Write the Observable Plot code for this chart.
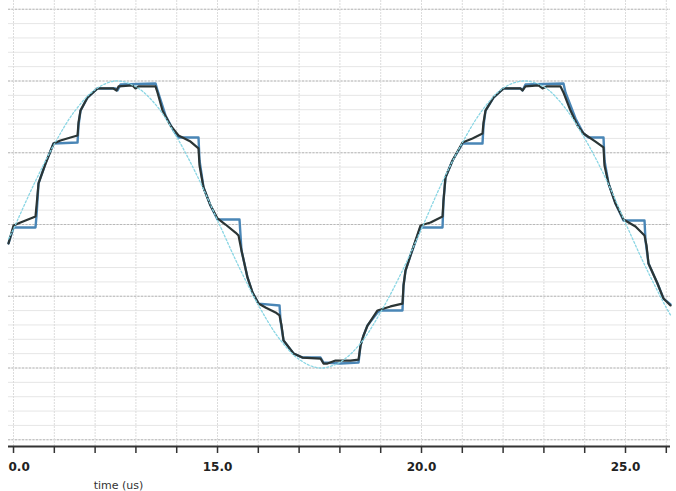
<!DOCTYPE html>
<html>
<head>
<meta charset="utf-8">
<script src="https://cdn.jsdelivr.net/npm/d3@7"></script>
<script src="https://cdn.jsdelivr.net/npm/@observablehq/plot@0.6"></script>
<style>
  html, body { margin: 0; padding: 0; background: #ffffff; }
  #chart { width: 676px; height: 491px; overflow: hidden; }
</style>
</head>
<body>
<div id="chart"></div>
<script>
// time axis (us)
const xTicks = [10, 11, 12, 13, 14, 15, 16, 17, 18, 19, 20, 21, 22, 23, 24, 25, 26];
const xLabelTicks = [15, 20, 25];
const xLabelFirst = [10];
const xLabelText = {10: "0.0", 15: "15.0", 20: "20.0", 25: "25.0"};
const yMajor = [-1.5, -1, -0.5, 0, 0.5, 1, 1.5];
const yMinor = [-1.5, -1.4, -1.3, -1.2, -1.1, -1, -0.9, -0.8, -0.7, -0.6, -0.5, -0.4, -0.3, -0.2, -0.1, 0,
                0.1, 0.2, 0.3, 0.4, 0.5, 0.6, 0.7, 0.8, 0.9, 1, 1.1, 1.2, 1.3, 1.4, 1.5];
const xDomain = [9.877, 26.103];
const yDomain = [-1.547, 1.561];

// reference sine (dotted, light cyan)
const sineT = [9.877, 10.0, 10.5, 11.0, 11.5, 12.0, 12.5, 13.0, 13.5, 14.0, 14.5, 15.0, 15.5, 16.0, 16.5, 17.0, 17.5,
               18.0, 18.5, 19.0, 19.5, 20.0, 20.5, 21.0, 21.5, 22.0, 22.5, 23.0, 23.5, 24.0, 24.5, 25.0, 25.5, 26.0, 26.103];
const sineV = [-0.10, -0.03, 0.28, 0.56, 0.79, 0.94, 1.0, 0.96, 0.83, 0.61, 0.34, 0.03, -0.28, -0.56, -0.79, -0.94, -1.0,
               -0.96, -0.83, -0.61, -0.34, -0.03, 0.29, 0.57, 0.80, 0.95, 1.0, 0.96, 0.82, 0.60, 0.33, 0.01, -0.30, -0.58, -0.63];

// stepped output (blue)
const blueT = [9.877, 10.0, 10.539, 10.564, 10.613, 10.784, 10.980, 11.569, 11.593, 11.642, 11.814, 12.059, 12.5, 12.549, 12.623,
               13.480, 13.529, 13.725, 13.922, 14.044, 14.534, 14.559, 14.657, 14.828, 15.0, 15.539, 15.588, 15.735, 15.858, 16.005,
               16.520, 16.544, 16.618, 16.863, 17.083, 17.525, 17.598, 18.015, 18.456, 18.505, 18.578, 18.676, 18.922, 18.995,
               19.534, 19.559, 19.608, 19.730, 19.975, 20.515, 20.539, 20.588, 20.760, 21.005, 21.495, 21.520, 21.569, 21.765,
               22.010, 22.426, 22.475, 22.549, 23.480, 23.529, 23.775, 23.971, 24.093, 24.461, 24.485, 24.583, 24.755, 24.951,
               25.466, 25.490, 25.564, 25.784, 25.931, 26.103];
const blueV = [-0.132, -0.021, -0.021, 0.063, 0.286, 0.425, 0.564, 0.571, 0.690, 0.794, 0.885, 0.948, 0.948, 0.934, 0.976,
               0.983, 0.934, 0.760, 0.655, 0.606, 0.606, 0.446, 0.258, 0.132, 0.035, 0.035, -0.181, -0.369, -0.474, -0.551,
               -0.564, -0.669, -0.808, -0.899, -0.927, -0.927, -0.962, -0.969, -0.962, -0.843, -0.774, -0.704, -0.613, -0.599,
               -0.599, -0.425, -0.321, -0.216, -0.021, -0.021, 0.167, 0.328, 0.446, 0.564, 0.564, 0.690, 0.794, 0.885,
               0.948, 0.948, 0.934, 0.976, 0.983, 0.920, 0.739, 0.634, 0.606, 0.606, 0.446, 0.286, 0.146, 0.028,
               0.028, -0.111, -0.272, -0.411, -0.516, -0.557];

// filtered output (dark)
const darkT = [9.877, 10.0, 10.172, 10.417, 10.539, 10.564, 10.613, 10.784, 10.980, 11.152, 11.397, 11.569, 11.593, 11.642,
               11.814, 12.059, 12.451, 12.525, 12.574, 12.917, 12.990, 13.064, 13.480, 13.529, 13.652, 13.848, 14.044, 14.338,
               14.534, 14.559, 14.657, 14.828, 15.0, 15.196, 15.441, 15.515, 15.588, 15.735, 15.858, 16.005, 16.176, 16.422,
               16.520, 16.569, 16.618, 16.863, 17.083, 17.525, 17.598, 17.696, 17.892, 18.260, 18.456, 18.505, 18.578, 18.676,
               18.922, 19.240, 19.534, 19.559, 19.608, 19.730, 19.975, 20.221, 20.515, 20.539, 20.588, 20.760, 21.005, 21.250,
               21.495, 21.520, 21.569, 21.765, 22.010, 22.426, 22.475, 22.549, 22.868, 22.966, 23.064, 23.407, 23.480, 23.652,
               23.824, 23.971, 24.265, 24.461, 24.485, 24.583, 24.755, 24.951, 25.245, 25.466, 25.515, 25.564, 25.784, 25.931, 26.103];
const darkV = [-0.132, -0.007, 0.014, 0.042, 0.056, 0.132, 0.286, 0.425, 0.564, 0.585, 0.606, 0.620, 0.711, 0.794,
               0.885, 0.948, 0.948, 0.934, 0.962, 0.969, 0.948, 0.962, 0.962, 0.920, 0.794, 0.690, 0.620, 0.578,
               0.530, 0.411, 0.258, 0.132, 0.042, 0.0, -0.056, -0.077, -0.181, -0.369, -0.474, -0.551, -0.578, -0.613,
               -0.634, -0.704, -0.808, -0.899, -0.927, -0.934, -0.969, -0.969, -0.948, -0.948, -0.941, -0.843, -0.774, -0.704,
               -0.599, -0.571, -0.551, -0.425, -0.321, -0.216, -0.007, 0.014, 0.056, 0.167, 0.328, 0.446, 0.571, 0.599,
               0.634, 0.711, 0.794, 0.885, 0.948, 0.948, 0.934, 0.962, 0.969, 0.948, 0.962, 0.962, 0.920, 0.794,
               0.690, 0.634, 0.578, 0.537, 0.411, 0.286, 0.146, 0.035, -0.014, -0.077, -0.146, -0.272, -0.411, -0.516, -0.564];

const toRows = (T, V) => T.map((t, i) => ({t, v: V[i]}));
const sine = toRows(sineT, sineV);
const blue = toRows(blueT, blueV);
const dark = toRows(darkT, darkV);

const chart = Plot.plot({
  width: 676,
  height: 491,
  marginLeft: 8,
  marginRight: 6,
  marginTop: 0,
  marginBottom: 45,
  style: {background: "#ffffff", fontFamily: "DejaVu Sans, sans-serif", color: "#222"},
  x: {domain: xDomain, axis: null},
  y: {domain: yDomain, axis: null},
  marks: [
    Plot.gridY(yMinor, {stroke: "#e6e6e6", strokeOpacity: 1, strokeWidth: 1}),
    Plot.gridY(yMajor, {stroke: "#b8b8b8", strokeOpacity: 1, strokeWidth: 1.2, strokeDasharray: "2,1.5"}),
    Plot.gridX(xTicks, {stroke: "#dcdcdc", strokeOpacity: 1, strokeWidth: 1, strokeDasharray: "2,1"}),
    Plot.line(blue, {x: "t", y: "v", stroke: "#4a86b6", strokeWidth: 2.4, strokeLinejoin: "round"}),
    Plot.line(dark, {x: "t", y: "v", stroke: "#2b3535", strokeWidth: 2.2, strokeLinejoin: "round"}),
    Plot.line(sine, {x: "t", y: "v", stroke: "#8ad6e4", strokeWidth: 1.3, strokeDasharray: "2,2", curve: "catmull-rom"}),
    Plot.ruleY([yDomain[0]], {stroke: "#333", strokeWidth: 2}),
    Plot.axisX(xTicks, {tickSize: 7, tickFormat: () => "", label: null, stroke: "#333", strokeWidth: 1.5}),
    Plot.axisX(xLabelTicks, {tickSize: 0, tickPadding: 16, tickFormat: d => xLabelText[d], label: null,
      fontSize: 12, fontWeight: "bold", fill: "#222"}),
    Plot.axisX(xLabelFirst, {tickSize: 0, tickPadding: 16, tickFormat: d => xLabelText[d], label: null,
      fontSize: 12, fontWeight: "bold", fill: "#222", textAnchor: "start", dx: -5}),
    Plot.text(["time (us)"], {frameAnchor: "bottom-left", dx: 110, dy: 39, textAnchor: "middle",
      lineAnchor: "middle", fontSize: 11, fill: "#333"})
  ]
});
document.getElementById("chart").appendChild(chart);
</script>
</body>
</html>
